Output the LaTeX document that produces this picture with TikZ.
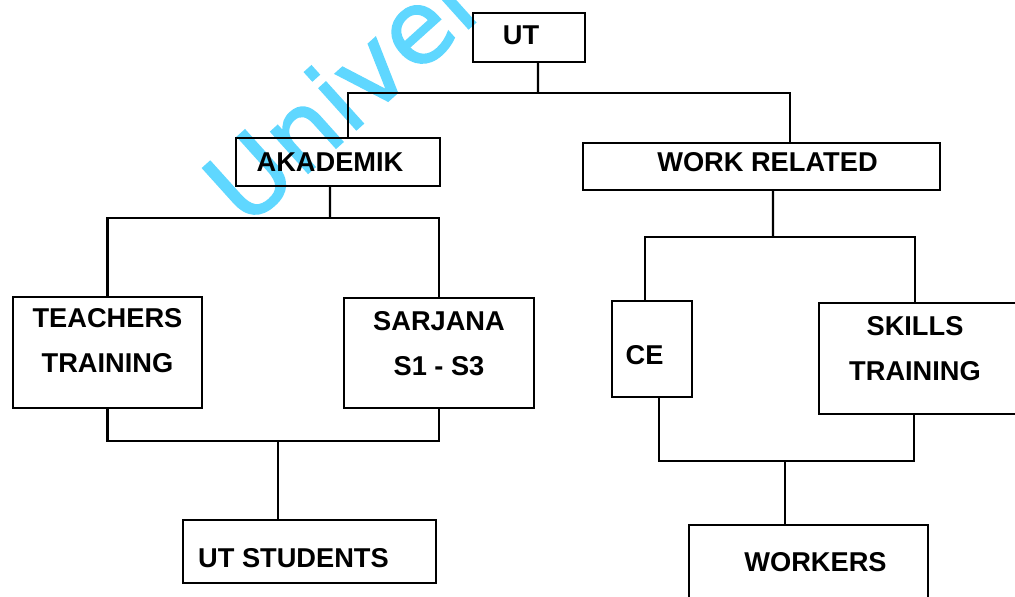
\documentclass[tikz,border=0pt]{standalone}
\usepackage{fontspec}
\setmainfont{Liberation Sans}
\newfontfamily\wmfont[FakeBold=1.5]{DejaVu Sans}
\usetikzlibrary{calc}
\definecolor{wmcyan}{RGB}{95,215,255}

\begin{document}
\begin{tikzpicture}[x=0.02cm, y=-0.02cm, line width=1.3pt,
		unitbox/.style={draw, line width=1.3pt, inner sep=0pt},
		boxtext/.style={font=\bfseries\fontsize{15.5}{26}\selectfont, align=center, inner sep=0pt},
		watermark/.style={font=\wmfont\fontsize{58}{58}\selectfont, text=wmcyan, inner sep=0pt}]
		\useasboundingbox (0,0) rectangle (1015,597);
		\clip (0,0) rectangle (1015,597);
		% watermark
		\node[watermark, rotate=42, anchor=base west] (wm) at (245,230) {Univer};
		% boxes
		\node[unitbox, minimum width=2.24cm, minimum height=0.98cm, label={[boxtext, xshift=-0.16cm, yshift=0.05cm]center:UT}] (ut) at (529,37.5) {};
		\node[unitbox, minimum width=4.08cm, minimum height=0.96cm, label={[boxtext, xshift=-0.16cm]center:AKADEMIK}] (akad) at (338,162) {};
		\node[unitbox, minimum width=7.14cm, minimum height=0.94cm, label={[boxtext, xshift=0.12cm, yshift=0.09cm]center:WORK RELATED}] (work) at (761.5,166.5) {};
		\node[unitbox, minimum width=3.78cm, minimum height=2.22cm, label={[boxtext, yshift=0.24cm]center:TEACHERS\\TRAINING}] (teach) at (107.5,352.5) {};
		\node[unitbox, minimum width=3.8cm, minimum height=2.2cm, label={[boxtext, yshift=0.19cm]center:SARJANA\\S1 - S3}] (sarj) at (439,353) {};
		\node[unitbox, minimum width=1.6cm, minimum height=1.92cm, label={[boxtext, xshift=-0.15cm, yshift=-0.12cm]center:CE}] (ce) at (652,349) {};
		\node[unitbox, minimum width=4.12cm, minimum height=2.22cm, label={[boxtext, xshift=-0.14cm, yshift=0.2cm]center:SKILLS\\TRAINING}] (skill) at (922,358.5) {};
		\node[unitbox, minimum width=5.06cm, minimum height=1.26cm, label={[boxtext, xshift=-0.32cm, yshift=-0.13cm]center:UT STUDENTS}] (stud) at (309.5,551.5) {};
		\node[unitbox, minimum width=4.78cm, minimum height=1.8cm, label={[boxtext, xshift=0.14cm, yshift=0.15cm]center:WORKERS}] (workers) at (808.5,570) {};
		% junctions
		\coordinate (utbus) at (538,93);
		\coordinate (akadbus) at (330,218);
		\coordinate (workbus) at (773,237);
		\coordinate (studbus) at (278,441);
		\coordinate (workerbus) at (785,461);
		% connectors
		\draw ([xshift=0.18cm]ut.south) -- (utbus);
		\draw ([xshift=0.2cm]akad.north) |- (utbus) -| ([xshift=0.57cm]work.north);
		\draw ([xshift=-0.16cm]akad.south) -- (akadbus);
		\draw (teach.north) |- (akadbus) -| (sarj.north);
		\draw ([xshift=0.23cm]work.south) -- (workbus);
		\draw ([xshift=-0.14cm]ce.north) |- (workbus) -| ([xshift=-0.14cm]skill.north);
		\draw (teach.south) |- (studbus) -| (sarj.south);
		\draw (studbus) -- (stud.north -| studbus);
		\draw ([xshift=0.14cm]ce.south) |- (workerbus) -| ([xshift=-0.16cm]skill.south);
		\draw (workerbus) -- (workers.north -| workerbus);
	\end{tikzpicture}
\end{document}
